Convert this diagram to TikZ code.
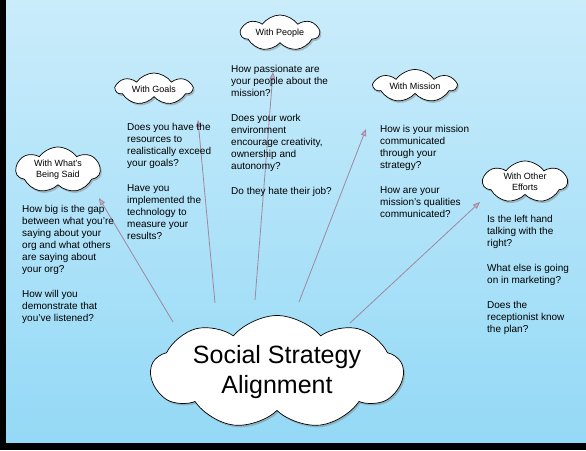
\documentclass[tikz,border=0pt]{standalone}
\usepackage{fontspec}
\setmainfont{Liberation Sans}
\usetikzlibrary{shapes.symbols,shadows,arrows.meta}
\definecolor{bgtop}{RGB}{202,236,251}
\definecolor{bgbot}{RGB}{148,217,246}
\definecolor{arrowc}{RGB}{160,135,160}
\definecolor{arrowf}{RGB}{205,170,195}
\tikzset{
  cloudbox/.style={cloud, cloud puffs=7, cloud puff arc=110, cloud ignores aspect,
    draw=black, line width=0.7pt, fill=white, inner sep=0pt, align=center,
    font=\fontsize{9}{11}\selectfont,
    drop shadow={shadow xshift=1.5pt, shadow yshift=-2pt, opacity=0.45}},
  qtext/.style={anchor=north west, inner sep=0pt, align=left,
    font=\fontsize{10}{12}\selectfont},
  link/.style={draw=arrowc, line width=0.8pt,
    -{Triangle[length=7pt,width=5.5pt,fill=arrowf]}},
}
\begin{document}
\begin{tikzpicture}[x=1pt,y=-1pt]
\useasboundingbox (0,0) rectangle (586,450);
\fill[black] (0,0) rectangle (586,450);
\shade[top color=bgtop,bottom color=bgbot] (6,0) rectangle (586,442);

% arrow end points
\coordinate (s1) at (173,322); \coordinate (t1) at (99,198);
\coordinate (s2) at (215,303); \coordinate (t2) at (198,120);
\coordinate (s3) at (255,300); \coordinate (t3) at (273,72);
\coordinate (s4) at (299,302); \coordinate (t4) at (366,129);
\coordinate (s5) at (350,323); \coordinate (t5) at (480,202);

\draw[link] (s1) -- (t1);
\draw[link] (s2) -- (t2);
\draw[link] (s3) -- (t3);
\draw[link] (s4) -- (t4);
\draw[link] (s5) -- (t5);

% clouds
\node[cloudbox, cloud puffs=9, cloud puff arc=100, minimum width=252pt, minimum height=113pt,
  font=\fontsize{25}{30}\selectfont] (main) at (277,372) {Social Strategy\\Alignment};
\node[cloudbox, minimum width=78pt, minimum height=36pt] (people) at (280,33) {With People};
\node[cloudbox, minimum width=76pt, minimum height=32pt] (goals) at (154,89) {With Goals};
\node[cloudbox, minimum width=82pt, minimum height=33pt] (mission) at (415,86) {With Mission};
\node[cloudbox, minimum width=84pt, minimum height=46pt] (said) at (58,170) {With What's\\Being Said};
\node[cloudbox, minimum width=84pt, minimum height=42pt] (other) at (525,182) {With Other\\Efforts};

% question texts
\node[qtext] (qsaid) at (22,204.7) {How big is the gap\\between what you're\\saying about your\\org and what others\\are saying about\\your org?\\[13pt]How will you\\demonstrate that\\you've listened?};
\node[qtext] (qgoals) at (127,122.7) {Does you have the\\resources to\\realistically exceed\\your goals?\\[13pt]Have you\\implemented the\\technology to\\measure your\\results?};
\node[qtext] (qpeople) at (231,64.7) {How passionate are\\your people about the\\mission?\\[13pt]Does your work\\environment\\encourage creativity,\\ownership and\\autonomy?\\[13pt]Do they hate their job?};
\node[qtext] (qmission) at (380,124.7) {How is your mission\\communicated\\through your\\strategy?\\[13pt]How are your\\mission's qualities\\communicated?};
\node[qtext] (qother) at (487,214.7) {Is the left hand\\talking with the\\right?\\[13pt]What else is going\\on in marketing?\\[13pt]Does the\\receptionist know\\the plan?};
\end{tikzpicture}
\end{document}
